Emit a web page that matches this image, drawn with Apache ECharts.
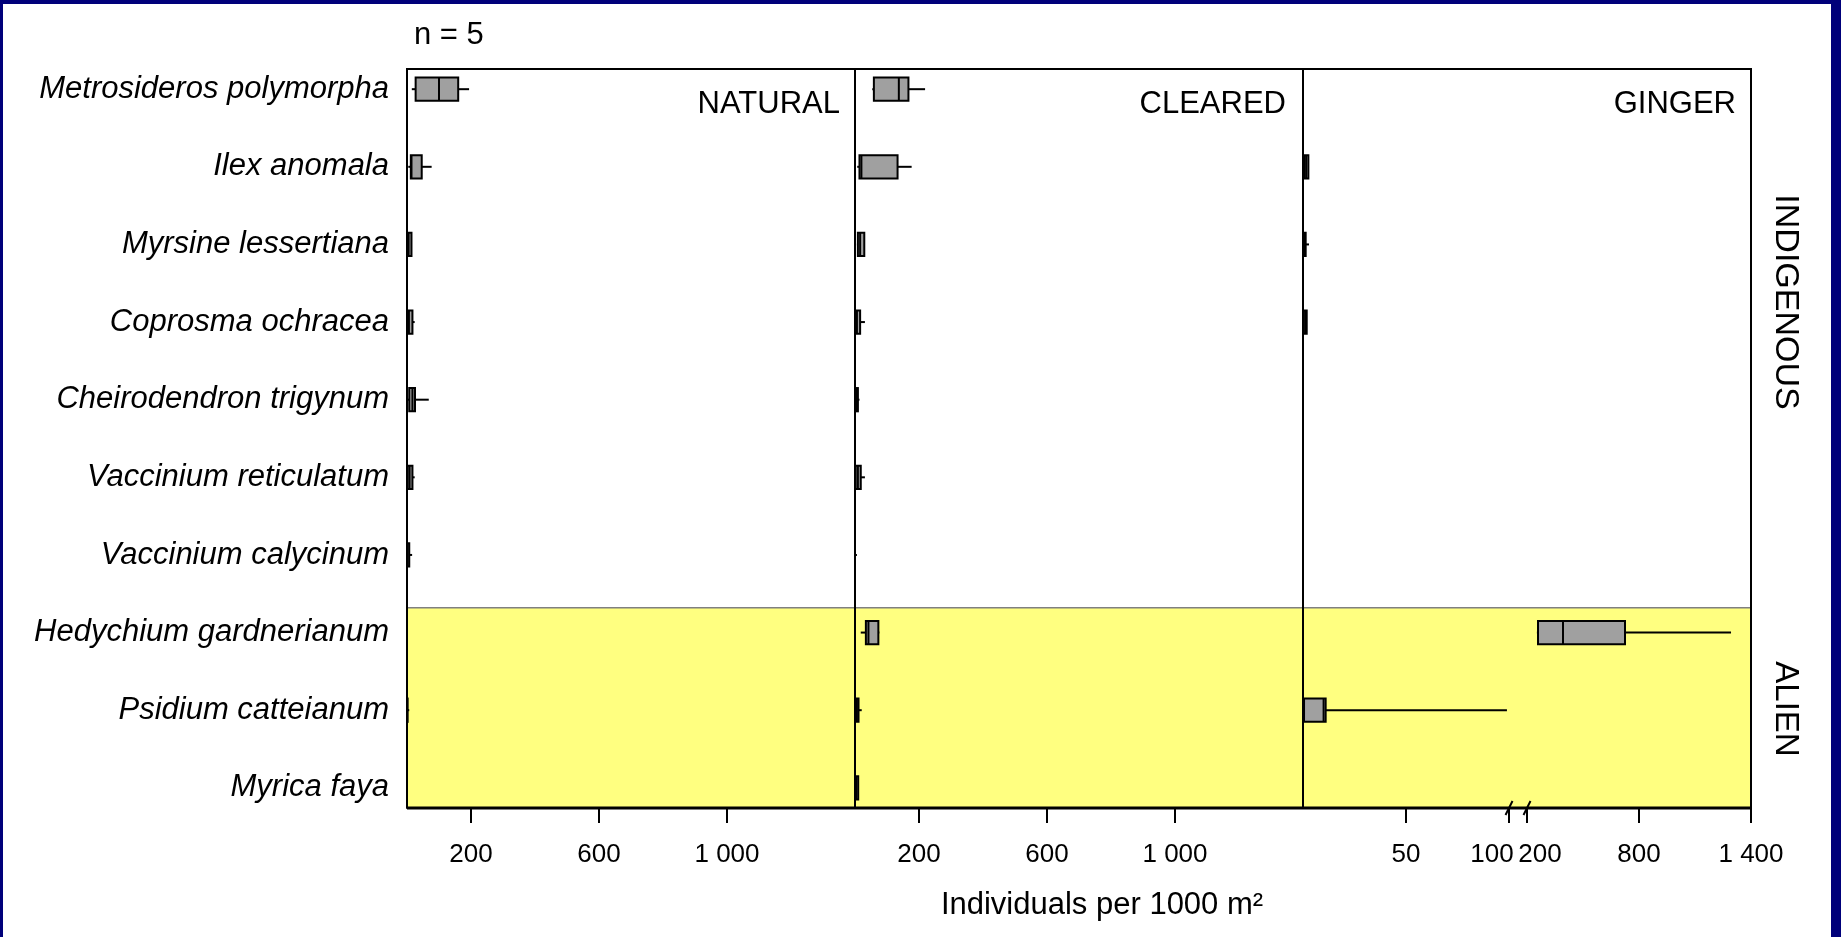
<!DOCTYPE html>
<html>
<head>
<meta charset="utf-8">
<title>Individuals per 1000 m² — Natural, Cleared, Ginger</title>
<script src="https://cdn.jsdelivr.net/npm/echarts@6/dist/echarts.min.js"></script>
<style>
  html, body { margin: 0; padding: 0; width: 1841px; height: 937px; overflow: hidden; background: #00007a; }
  #sheet { position: absolute; left: 3px; top: 4px; right: 10px; bottom: 0; background: #ffffff; }
  #chart { position: absolute; left: 0; top: 0; width: 1841px; height: 937px; }
</style>
</head>
<body>
<div id="sheet"></div>
<div id="chart"></div>
<script>
// Species, top to bottom (rows 0..6 indigenous, 7..9 alien)
const species = [
  'Metrosideros polymorpha',
  'Ilex anomala',
  'Myrsine lessertiana',
  'Coprosma ochracea',
  'Cheirodendron trigynum',
  'Vaccinium reticulatum',
  'Vaccinium calycinum',
  'Hedychium gardnerianum',
  'Psidium catteianum',
  'Myrica faya'
];

// Box statistics per species: [min, Q1, median, Q3, max], individuals per 1000 m²
const natural = [
  [15, 27, 100, 160, 194],
  [4, 12, 14, 46, 77],
  [0, 1, 5, 14, 14],
  [0, 2, 6, 17, 24],
  [0, 7, 17, 25, 68],
  [0, 2, 8, 17, 24],
  [0, 0, 2, 7, 16],
  [0, 0, 0, 0, 0],
  [0, 0, 0, 2, 7],
  [0, 0, 0, 0, 0]
];
const cleared = [
  [54, 59, 137, 167, 219],
  [7, 14, 20, 133, 177],
  [6, 9, 16, 29, 29],
  [0, 1, 6, 16, 31],
  [0, 5, 7, 9, 14],
  [0, 2, 9, 18, 31],
  [0, 0, 0, 0, 6],
  [18, 34, 42, 73, 76],
  [0, 2, 6, 11, 21],
  [0, 1, 4, 10, 10]
];
const ginger = [
  [0, 0, 0, 0, 0],
  [0, 0.5, 1.5, 2.6, 2.6],
  [0, 0.2, 0.8, 1.3, 2.9],
  [0, 0, 1, 1.8, 1.8],
  [0, 0, 0, 0, 0],
  [0, 0, 0, 0, 0],
  [0, 0, 0, 0, 0],
  [253, 259, 393, 725, 1293],
  [0, 0.5, 10, 11, 99],
  [0, 0, 0, 0, 0]
];

// Tick values for each x axis
const naturalTicks = [200, 600, 1000];
const clearedTicks = [200, 600, 1000];
const gingerLowTicks = [50, 100];
const gingerHighTicks = [200, 800, 1400];

// Ginger axis is broken between these two values
const breakStart = 100;
const breakEnd = 200;

// Vertical extent of the row axis and the indigenous / alien boundary
const rowMin = -0.26;
const rowMax = 9.26;
const alienEdge = 6.68;
const boxHeight = 0.30;

const FONT = "'Liberation Sans', Arial, Helvetica, sans-serif";
const rowIndex = species.map((_, i) => i);

function thousands(v) {
  return String(v).replace(/\B(?=(\d{3})+(?!\d))/g, ' ');
}

function toRows(stats, keep) {
  return stats
    .map((s, i) => [i].concat(s))
    .filter(r => r[5] > 0 && keep(r));
}

function renderBox(params, api) {
  const row = api.value(0);
  const v = [1, 2, 3, 4, 5].map(i => api.value(i));
  const p = v.map(x => api.coord([x, row]));
  const h = api.size([0, boxHeight])[1];
  const y = p[0][1];
  const stroke = { stroke: '#000', lineWidth: 2 };
  const hLine = (x1, x2) => ({ type: 'line', shape: { x1: x1, y1: y, x2: x2, y2: y }, style: stroke });
  return {
    type: 'group',
    children: [
      hLine(p[0][0], p[1][0]),
      hLine(p[3][0], p[4][0]),
      {
        type: 'rect',
        shape: { x: p[1][0], y: y - h / 2, width: p[3][0] - p[1][0], height: h },
        style: { fill: '#a0a0a0', stroke: '#000', lineWidth: 2 }
      },
      {
        type: 'line',
        shape: { x1: p[2][0], y1: y - h / 2, x2: p[2][0], y2: y + h / 2 },
        style: stroke
      }
    ]
  };
}

function renderBreak(params, api) {
  const p = api.coord([api.value(0), api.value(1)]);
  return {
    type: 'line',
    shape: { x1: p[0] - 3.5, y1: p[1] + 7, x2: p[0] + 3.5, y2: p[1] - 7 },
    style: { stroke: '#000', lineWidth: 2 }
  };
}

function renderFrame(params, api) {
  const tl = api.coord([0, rowMin]);
  const br = api.coord([1, rowMax]);
  const edge = api.coord([0, alienEdge]);
  return {
    type: 'group',
    children: [
      {
        type: 'rect',
        shape: { x: tl[0], y: edge[1], width: br[0] - tl[0], height: br[1] - edge[1] },
        style: { fill: '#ffff80' }
      },
      {
        type: 'line',
        shape: { x1: tl[0], y1: edge[1], x2: br[0], y2: edge[1] },
        style: { stroke: '#808080', lineWidth: 1.5 }
      },
      {
        type: 'polyline',
        shape: { points: [[tl[0], br[1]], [tl[0], tl[1]], [br[0], tl[1]], [br[0], br[1]]] },
        style: { stroke: '#000', lineWidth: 2, fill: null }
      },
      {
        type: 'line',
        shape: { x1: tl[0], y1: br[1], x2: br[0], y2: br[1] },
        style: { stroke: '#000', lineWidth: 3 }
      }
    ]
  };
}

function panelX(gridIndex, min, max, ticks, formatter, rich) {
  return {
    type: 'value', gridIndex: gridIndex, min: min, max: max, position: 'bottom',
    axisLine: { show: false, onZero: false },
    splitLine: { show: false },
    axisTick: { show: true, customValues: ticks, length: 15, lineStyle: { color: '#000', width: 2 } },
    axisLabel: {
      show: true, customValues: ticks, margin: 34, color: '#000',
      fontSize: 26, fontFamily: FONT, formatter: formatter, rich: rich
    },
    z: 5
  };
}

function panelY(gridIndex, withLine, withLabels) {
  return {
    type: 'value', gridIndex: gridIndex, inverse: true, min: rowMin, max: rowMax,
    show: withLine || withLabels,
    axisLine: { show: withLine, onZero: false, lineStyle: { color: '#000', width: 2 } },
    axisTick: { show: false },
    splitLine: { show: false },
    axisLabel: {
      show: withLabels, customValues: rowIndex, margin: 18, color: '#000',
      fontSize: 31, fontStyle: 'italic', fontFamily: FONT,
      formatter: v => species[Math.round(v)]
    },
    z: 5
  };
}

function boxSeries(axisIndex, rows) {
  return {
    type: 'custom', xAxisIndex: axisIndex, yAxisIndex: axisIndex,
    data: rows, renderItem: renderBox, encode: { x: [1, 2, 3, 4, 5], y: 0 },
    clip: false, silent: true, z: 6
  };
}

const panelTitle = (text, right) => ({
  text: text, right: right, top: 89, padding: 0,
  textStyle: { fontSize: 31, fontWeight: 'normal', color: '#000', fontFamily: FONT }
});

const sideLabel = (text, y, size) => ({
  type: 'text', x: 1785, y: y, rotation: -Math.PI / 2,
  style: {
    text: text, fontSize: size, fontFamily: FONT, fill: '#000',
    align: 'center', verticalAlign: 'middle', textAlign: 'center', textVerticalAlign: 'middle'
  }
});

const chart = echarts.init(document.getElementById('chart'), null, { renderer: 'canvas' });

chart.setOption({
  animation: false,
  backgroundColor: 'transparent',
  title: [
    {
      text: 'n = 5', left: 414, top: 20, padding: 0,
      textStyle: { fontSize: 31, fontWeight: 'normal', color: '#000', fontFamily: FONT }
    },
    panelTitle('NATURAL', 1001),
    panelTitle('CLEARED', 555),
    panelTitle('GINGER', 105)
  ],
  grid: [
    { left: 407, top: 69, width: 1344, height: 739 },
    { left: 407, top: 69, width: 448, height: 739 },
    { left: 855, top: 69, width: 448, height: 739 },
    { left: 1303, top: 69, width: 206, height: 739 },
    { left: 1527, top: 69, width: 224, height: 739 }
  ],
  xAxis: [
    { type: 'value', gridIndex: 0, min: 0, max: 1, show: false },
    panelX(1, 0, 1400, naturalTicks, thousands),
    panelX(2, 0, 1400, clearedTicks, thousands),
    panelX(3, 0, breakStart, gingerLowTicks,
      v => (v === breakStart ? '{l|' + v + '}' : thousands(v)),
      { l: { fontSize: 26, fontFamily: FONT, color: '#000', padding: [0, 34, 0, 0] } }),
    panelX(4, breakEnd, 1400, gingerHighTicks,
      v => (v === breakEnd ? '{r|' + v + '}' : thousands(v)),
      { r: { fontSize: 26, fontFamily: FONT, color: '#000', padding: [0, 0, 0, 26] } })
  ],
  yAxis: [
    { type: 'value', gridIndex: 0, inverse: true, min: rowMin, max: rowMax, show: false },
    panelY(1, true, true),
    panelY(2, true, false),
    panelY(3, true, false),
    panelY(4, false, false)
  ],
  series: [
    {
      type: 'custom', xAxisIndex: 0, yAxisIndex: 0, data: [[0, 0]],
      renderItem: renderFrame, clip: false, silent: true, z: 1
    },
    boxSeries(1, toRows(natural, () => true)),
    boxSeries(2, toRows(cleared, () => true)),
    boxSeries(3, toRows(ginger, r => r[5] <= breakStart)),
    boxSeries(4, toRows(ginger, r => r[1] >= breakEnd)),
    {
      type: 'custom', xAxisIndex: 3, yAxisIndex: 3, data: [[breakStart, rowMax]],
      renderItem: renderBreak, clip: false, silent: true, z: 7
    },
    {
      type: 'custom', xAxisIndex: 4, yAxisIndex: 4, data: [[breakEnd, rowMax]],
      renderItem: renderBreak, clip: false, silent: true, z: 7
    }
  ],
  graphic: [
    sideLabel('INDIGENOUS', 302, 34),
    sideLabel('ALIEN', 709, 33),
    {
      type: 'text', x: 1102, y: 905,
      style: {
        text: 'Individuals per 1000 m²', fontSize: 31, fontFamily: FONT, fill: '#000',
        align: 'center', verticalAlign: 'middle', textAlign: 'center', textVerticalAlign: 'middle'
      }
    }
  ]
});
</script>
</body>
</html>
